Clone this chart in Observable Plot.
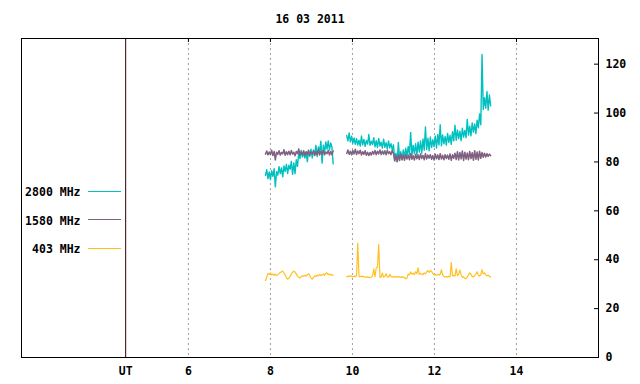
<!DOCTYPE html>
<html>
<head>
<meta charset="utf-8">
<script src="https://cdn.jsdelivr.net/npm/d3@7"></script>
<script src="https://cdn.jsdelivr.net/npm/@observablehq/plot@0.6"></script>
<style>
  html, body { margin: 0; padding: 0; background: #fff; }
</style>
</head>
<body>
<div id="chart"></div>
<script>
// ---- Data ----
const title = "16 03 2011";
const seriesNames = ["2800 MHz", "1580 MHz", "403 MHz"];
const seriesColors = ["#00c0c0", "#806080", "#ffc020"];

// sampling of the two observing segments (UT hours)
const seg1Start = 7.88, seg2Start = 9.86, sampleStep = 0.03;

const mhz2800_seg1 = [
  74.5, 76.8, 73.2, 75.9, 72.8, 76.4, 74.1, 77.2, 69.8, 76.0,
  74.6, 78.1, 75.2, 77.6, 73.9, 78.4, 76.1, 79.0, 75.3, 78.7,
  77.0, 80.2, 74.9, 79.6, 75.2, 80.9, 78.2, 83.6, 81.4, 84.7,
  82.0, 84.2, 81.6, 83.9, 80.1, 84.5, 82.3, 85.2, 81.7, 84.9,
  83.1, 86.8, 82.2, 86.1, 84.0, 88.5, 79.5, 86.9, 83.8, 88.2,
  85.2, 88.6, 84.9, 87.8, 86.0, 79.2
];
const mhz2800_seg2 = [
  90.8, 88.6, 91.9, 88.2, 90.5, 87.6, 89.8, 87.2, 89.5, 86.9,
  88.9, 86.5, 90.6, 87.0, 89.2, 86.4, 88.8, 87.3, 91.2, 86.8,
  88.5, 87.1, 89.9, 86.2, 88.7, 85.9, 89.6, 86.5, 88.1, 85.7,
  89.3, 86.0, 87.9, 85.4, 88.6, 85.8, 87.5, 84.9, 87.0,
  81.0, 83.6, 80.2, 88.0, 81.5, 84.2, 80.8, 84.9, 82.1, 85.6,
  82.4, 86.3, 83.0, 92.1, 82.7, 86.8, 83.4, 87.5, 82.9, 88.1,
  84.0, 88.6, 83.6, 89.4, 84.8, 94.3, 85.1, 89.7, 84.6, 90.2,
  85.9, 89.1, 86.3, 90.6, 85.7, 91.2, 87.0, 95.2, 86.6, 91.0,
  87.4, 90.4, 86.9, 91.7, 88.0, 90.9, 87.2, 92.4, 88.6, 95.0,
  88.9, 93.1, 89.5, 92.6, 88.7, 93.8, 90.2, 92.9, 89.9, 97.4,
  91.0, 94.6, 90.7, 96.0, 92.2, 95.5, 91.6, 97.1, 94.0, 99.6,
  95.2, 124.0, 101.5, 106.3, 102.0, 108.8, 101.2, 107.4, 103.0
];
const mhz1580_seg1 = [
  83.2, 84.5, 82.9, 84.1, 83.0, 84.8, 82.6, 84.3, 80.8, 84.0,
  83.1, 84.6, 82.8, 83.9, 83.3, 85.0, 82.7, 84.2, 83.0, 84.4,
  82.9, 84.7, 83.2, 84.0, 82.5, 84.3, 83.4, 85.3, 82.8, 84.1,
  83.0, 84.6, 82.7, 84.2, 83.1, 84.8, 82.9, 84.0, 83.3, 84.5,
  82.6, 84.2, 83.0, 84.9, 82.8, 84.3, 83.2, 84.6, 82.9, 84.1,
  83.4, 84.7, 82.8, 84.3, 83.0, 84.5
];
const mhz1580_seg2 = [
  83.5, 84.9, 83.1, 84.4, 82.9, 84.7, 83.3, 85.2, 83.0, 84.5,
  83.4, 84.8, 82.8, 84.2, 83.1, 84.6, 82.7, 84.0, 82.6, 83.9,
  82.8, 84.3, 83.2, 84.7, 82.9, 84.4, 83.3, 84.9, 83.0, 84.5,
  83.2, 84.6, 82.9, 84.8, 83.4, 84.2, 83.0, 84.7, 83.5,
  80.4, 82.6, 80.1, 82.9, 80.6, 83.2, 81.0, 82.7, 80.7, 83.0,
  81.2, 82.8, 80.9, 83.4, 81.1, 82.6, 80.8, 83.1, 81.3, 82.9,
  81.0, 83.3, 81.4, 82.7, 80.9, 83.5, 81.2, 82.8, 81.5, 83.0,
  81.1, 82.6, 80.8, 83.2, 81.3, 82.9, 81.0, 83.4, 81.2, 82.7,
  80.9, 83.0, 81.4, 82.8, 81.1, 83.3, 80.7, 82.9, 81.5, 83.6,
  81.0, 84.2, 80.8, 83.9, 81.3, 84.5, 80.6, 84.0, 81.2, 83.7,
  80.9, 84.3, 81.4, 83.8, 80.7, 84.6, 81.1, 84.1, 80.8, 84.4,
  81.5, 83.9, 81.9, 83.6, 82.0, 83.4, 82.3, 83.2, 82.6
];
const mhz403_seg1 = [
  31.5, 32.8, 34.4, 34.0, 34.6, 33.8, 34.2, 33.6, 34.1, 33.5,
  33.9, 34.3, 34.8, 35.1, 35.3, 34.6, 33.6, 32.7, 32.1, 32.4,
  33.2, 34.1, 34.9, 35.3, 35.0, 34.2, 33.3, 32.8, 32.5, 33.0,
  33.4, 33.2, 33.6, 33.3, 33.9, 34.3, 33.5, 32.6, 32.1, 32.8,
  33.4, 33.2, 33.7, 33.4, 34.0, 33.5, 33.8, 34.2, 33.6, 34.4,
  34.6, 33.9, 34.2, 33.7, 34.0, 33.6
];
const mhz403_seg2 = [
  33.0, 33.3, 33.1, 33.4, 33.2, 33.0, 33.3, 33.1, 33.4, 46.7,
  33.2, 33.0, 33.3, 33.1, 33.2, 32.9, 32.7, 33.0, 32.8, 32.6,
  32.9, 33.4, 36.2, 33.1, 36.6, 37.0, 46.2, 32.8, 33.0, 34.5,
  32.9, 33.2, 34.3, 33.0, 32.9, 34.0, 33.1, 33.0, 32.9, 33.1,
  33.0, 32.9, 33.1, 33.0, 32.8, 33.0, 32.9, 32.6, 32.2, 32.5,
  34.2, 33.8, 35.0, 34.1, 34.5, 33.9, 35.1, 34.3, 36.7, 34.0,
  34.4, 34.1, 33.9, 34.6, 34.2, 35.0, 35.5, 34.8, 35.6, 35.2,
  34.4, 33.8, 34.0, 33.6, 34.1, 33.7, 34.0, 35.9, 33.8, 33.2,
  33.0, 33.1, 32.9, 33.2, 33.0, 38.8, 33.4, 33.6, 33.3, 36.3,
  33.5, 34.0, 35.8, 33.9, 32.8, 33.0, 32.4, 32.2, 33.0, 33.8,
  34.6, 34.0, 33.2, 33.0, 33.5, 34.2, 35.1, 33.6, 33.3, 33.9,
  35.9, 34.2, 34.6, 33.8, 33.4, 33.7, 33.2, 33.0
];

const xTickValues = [4.47, 6, 8, 10, 12, 14];
const xTickLabels = ["UT", "6", "8", "10", "12", "14"];
const gridHours = [6, 8, 10, 12, 14];
const utMarker = [4.47];
const yTickValues = [0, 20, 40, 60, 80, 100, 120];

// ---- Build table ----
function rows(series, seg, start, values) {
  return values.map((v, i) => ({series, seg, t: start + i * sampleStep, v}));
}
const data = [
  ...rows(seriesNames[0], 1, seg1Start, mhz2800_seg1),
  ...rows(seriesNames[0], 2, seg2Start, mhz2800_seg2),
  ...rows(seriesNames[1], 1, seg1Start, mhz1580_seg1),
  ...rows(seriesNames[1], 2, seg2Start, mhz1580_seg2),
  ...rows(seriesNames[2], 1, seg1Start, mhz403_seg1),
  ...rows(seriesNames[2], 2, seg2Start, mhz403_seg2)
];

const W = 640, H = 384, mT = 38, mB = 27, mL = 21, mR = 42;
const frameW = W - mL - mR, frameH = H - mT - mB;
const font = "'DejaVu Sans Mono', monospace";
const labelMap = new Map(xTickValues.map((d, i) => [d, xTickLabels[i]]));
const legendRowOffsets = [154, 182.5, 211]; // px below the frame top
const swatchRows = [191.5, 219.5, 248.5];
const lineWidths = [1.4, 1.5, 1.2];

const chart = Plot.plot({
  width: W, height: H,
  marginTop: mT, marginBottom: mB, marginLeft: mL, marginRight: mR,
  style: {fontFamily: font, fontSize: "11.5px", fontWeight: "bold", background: "#fff", color: "#000"},
  x: {domain: [1.93, 16]},
  y: {domain: [0, 130.5]},
  marks: [
    Plot.ruleX(gridHours, {stroke: "#a0a0a0", strokeDasharray: "2,3"}),
    Plot.ruleX(utMarker, {stroke: "#300000"}),
    Plot.ruleX(gridHours, {stroke: "#000", insetBottom: frameH - 4}),
    Plot.ruleY(yTickValues, {stroke: "#000", insetLeft: frameW - 4}),
    ...seriesNames.map((s, k) =>
      Plot.line(data.filter(d => d.series === s), {x: "t", y: "v", z: "seg", stroke: seriesColors[k], strokeWidth: lineWidths[k]})
    ),
    Plot.frame({stroke: "#000"}),
    Plot.axisX(xTickValues, {anchor: "bottom", tickSize: 0, tickPadding: 9, tickFormat: d => labelMap.get(d), label: null}),
    Plot.axisY(yTickValues, {anchor: "right", tickSize: 0, tickPadding: 7, label: null}),
    Plot.text([title], {frameAnchor: "top", dy: -19, lineAnchor: "middle"}),
    ...seriesNames.map((s, k) =>
      Plot.text([s], {frameAnchor: "top-left", textAnchor: "end", dx: 59, dy: legendRowOffsets[k], lineAnchor: "middle"})
    )
  ]
});

// legend swatches (sample lines next to the labels)
const svg = d3.select(chart);
const lg = svg.append("g");
seriesNames.forEach((s, k) => {
  lg.append("line")
    .attr("x1", 88).attr("x2", 121)
    .attr("y1", swatchRows[k]).attr("y2", swatchRows[k])
    .attr("stroke", seriesColors[k]).attr("stroke-width", 1);
});

document.getElementById("chart").appendChild(chart);
</script>
</body>
</html>
